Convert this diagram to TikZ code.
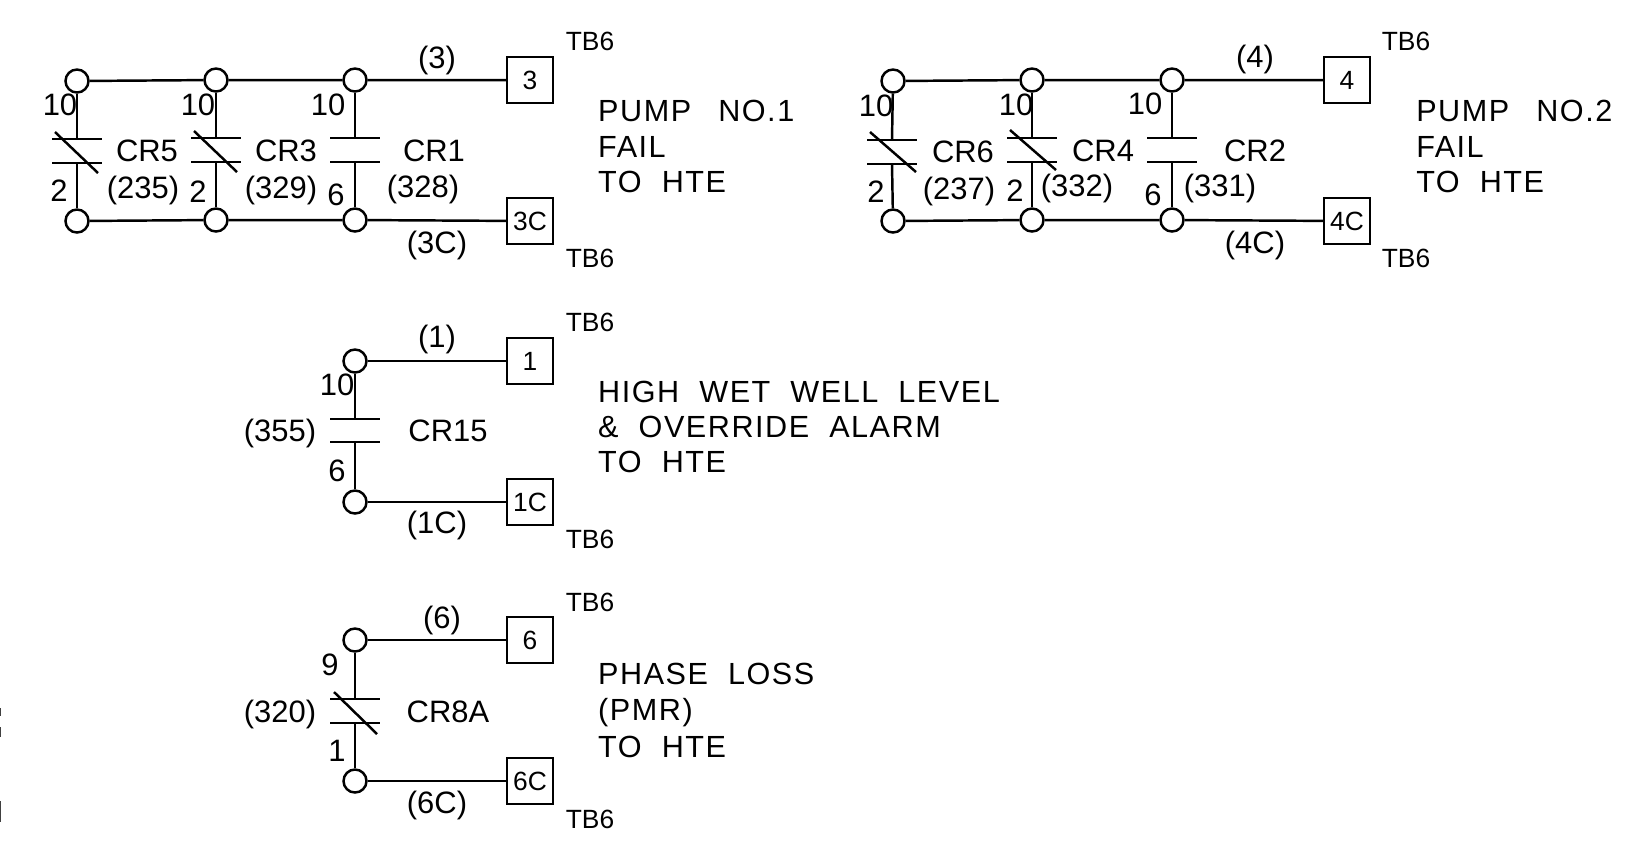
\documentclass[tikz,border=0pt]{standalone}
\usepackage{fontspec}
\setmainfont{Liberation Sans}
\newfontfamily\notefont[LetterSpace=5]{Liberation Sans}
\begin{document}
\begin{tikzpicture}[x=0.01cm,y=-0.01cm,line width=0.7pt,
  term/.style={circle,draw,fill=white,inner sep=0pt,minimum size=0.23cm},
  block/.style={rectangle,draw,inner sep=0pt,minimum size=0.46cm,font=\fontsize{7.5}{8}\selectfont},
  plate/.style={rectangle,draw,inner sep=0pt,outer sep=0pt,minimum width=0.47cm,minimum height=0.1pt},
  lbl/.style={inner sep=0pt,font=\fontsize{8.8}{10}\selectfont},
  tag/.style={inner sep=0pt,font=\fontsize{7.5}{8}\selectfont},
  note/.style={inner sep=0pt,anchor=west,font=\notefont\fontsize{8.7}{10}\selectfont}]
\useasboundingbox (0,0) rectangle (1625,853);
\fill [black!75] (0,708) rectangle (1,716);
\fill [black!75] (0,727) rectangle (1,737);
\fill [black!75] (0,801) rectangle (1,822);
\node [term] (a) at (77,81) {};
\node [term] (b) at (216,80) {};
\node [term] (c) at (355,80) {};
\node [term] (d) at (77,221) {};
\node [term] (e) at (216,220) {};
\node [term] (f) at (355,220) {};
\node [block] (k3) at (530,80) {3};
\node [block] (k3c) at (530,221) {3C};
\node [plate] (p5a) at (77,139) {};
\node [plate] (p5b) at (77,163) {};
\node [plate] (p3a) at (216,138) {};
\node [plate] (p3b) at (216,162) {};
\node [plate] (p1a) at (355,138) {};
\node [plate] (p1b) at (355,162) {};
\draw (a) -- (b) -- (c) -- (k3);
\draw (d) -- (e) -- (f) -- (k3c);
\draw (a) -- (p5a);
\draw (p5b) -- (d);
\draw (b) -- (p3a);
\draw (p3b) -- (e);
\draw (c) -- (p1a);
\draw (p1b) -- (f);
\draw ([shift={(-22,-7)}]p5a.center) -- ([shift={(21,10)}]p5b.center);
\draw ([shift={(-22,-7)}]p3a.center) -- ([shift={(21,10)}]p3b.center);
\node [tag] (tb3) at (590,41) {TB6};
\node [tag] (tb3c) at (590,258) {TB6};
\node [lbl] (w3) at (437,60) {(3)};
\node [lbl] (w3c) at (437,245) {(3C)};
\node [lbl] (n5a) at (60,105) {10};
\node [lbl] (n3a) at (198,105) {10};
\node [lbl] (n1a) at (328,105) {10};
\node [lbl] (n5b) at (59,191) {2};
\node [lbl] (n3b) at (198,192) {2};
\node [lbl] (n1b) at (336,195) {6};
\node [lbl] (cr5) at (147,151) {CR5};
\node [lbl] (cr3) at (286,151) {CR3};
\node [lbl] (cr1) at (434,151) {CR1};
\node [lbl] (r5) at (143,190) {(235)};
\node [lbl] (r3) at (281,190) {(329)};
\node [lbl] (r1) at (423,189) {(328)};
\node [note] (s1a) at (597,111) {PUMP\ \ \hspace{2pt}NO.1};
\node [note] (s1b) at (597,147) {FAIL};
\node [note] (s1c) at (597,182) {TO\ \ HTE};
\node [term] (g) at (893,81) {};
\node [term] (h) at (1032,80) {};
\node [term] (i) at (1172,80) {};
\node [term] (j) at (893,221) {};
\node [term] (l) at (1032,220) {};
\node [term] (m) at (1172,220) {};
\node [block] (k4) at (1347,80) {4};
\node [block] (k4c) at (1347,221) {4C};
\node [plate] (p6a) at (892,140) {};
\node [plate] (p6b) at (892,164) {};
\node [plate] (p4a) at (1032,138) {};
\node [plate] (p4b) at (1032,162) {};
\node [plate] (p2a) at (1172,138) {};
\node [plate] (p2b) at (1172,162) {};
\draw (g) -- (h) -- (i) -- (k4);
\draw (j) -- (l) -- (m) -- (k4c);
\draw (g) -- (p6a);
\draw (p6b) -- (j);
\draw (h) -- (p4a);
\draw (p4b) -- (l);
\draw (i) -- (p2a);
\draw (p2b) -- (m);
\draw ([shift={(-22,-8)}]p6a.center) -- ([shift={(24,8)}]p6b.center);
\draw ([shift={(-22,-8)}]p4a.center) -- ([shift={(24,8)}]p4b.center);
\node [tag] (tb4) at (1406,41) {TB6};
\node [tag] (tb4c) at (1406,258) {TB6};
\node [lbl] (w4) at (1255,59) {(4)};
\node [lbl] (w4c) at (1255,245) {(4C)};
\node [lbl] (n6a) at (876,106) {10};
\node [lbl] (n4a) at (1016,105) {10};
\node [lbl] (n2a) at (1145,104) {10};
\node [lbl] (n6b) at (876,192) {2};
\node [lbl] (n4b) at (1015,191) {2};
\node [lbl] (n2b) at (1153,195) {6};
\node [lbl] (cr6) at (963,152) {CR6};
\node [lbl] (cr4) at (1103,151) {CR4};
\node [lbl] (cr2) at (1255,151) {CR2};
\node [lbl] (r6) at (959,191) {(237)};
\node [lbl] (r4) at (1077,188) {(332)};
\node [lbl] (r2) at (1220,188) {(331)};
\node [note] (s2a) at (1415,111) {PUMP\ \ \hspace{2pt}NO.2};
\node [note] (s2b) at (1415,147) {FAIL};
\node [note] (s2c) at (1415,182) {TO\ \ HTE};
\node [term] (o) at (355,361) {};
\node [term] (q) at (355,502) {};
\node [block] (k1) at (530,361) {1};
\node [block] (k1c) at (530,502) {1C};
\node [plate] (p15a) at (355,419) {};
\node [plate] (p15b) at (355,442) {};
\draw (o) -- (k1);
\draw (q) -- (k1c);
\draw (o) -- (p15a);
\draw (p15b) -- (q);
\node [tag] (tb1) at (590,322) {TB6};
\node [tag] (tb1c) at (590,539) {TB6};
\node [lbl] (w1) at (437,339) {(1)};
\node [lbl] (w1c) at (437,525) {(1C)};
\node [lbl] (n15a) at (337,385) {10};
\node [lbl] (n15b) at (337,471) {6};
\node [lbl] (r15) at (280,433) {(355)};
\node [lbl] (cr15) at (448,431) {CR15};
\node [note] (s3a) at (597,392) {HIGH\ \ WET\ \ WELL\ \ LEVEL};
\node [note] (s3b) at (597,427) {\&\ \ OVERRIDE\ \ ALARM};
\node [note] (s3c) at (597,462) {TO\ \ HTE};
\node [term] (r) at (355,640) {};
\node [term] (u) at (355,781) {};
\node [block] (k6) at (530,640) {6};
\node [block] (k6c) at (530,781) {6C};
\node [plate] (p8a) at (355,699) {};
\node [plate] (p8b) at (355,723) {};
\draw (r) -- (k6);
\draw (u) -- (k6c);
\draw (r) -- (p8a);
\draw (p8b) -- (u);
\draw ([shift={(-21,-7)}]p8a.center) -- ([shift={(22,11)}]p8b.center);
\node [tag] (tb6) at (590,602) {TB6};
\node [tag] (tb6c) at (590,819) {TB6};
\node [lbl] (w6) at (442,620) {(6)};
\node [lbl] (w6c) at (437,805) {(6C)};
\node [lbl] (n8a) at (330,665) {9};
\node [lbl] (n8b) at (337,751) {1};
\node [lbl] (r8) at (280,714) {(320)};
\node [lbl] (cr8) at (448,712) {CR8A};
\node [note] (s4a) at (597,674) {PHASE\ \ LOSS};
\node [note] (s4b) at (597,713) {(PMR)};
\node [note] (s4c) at (597,747) {TO\ \ HTE};
\end{tikzpicture}
\end{document}
